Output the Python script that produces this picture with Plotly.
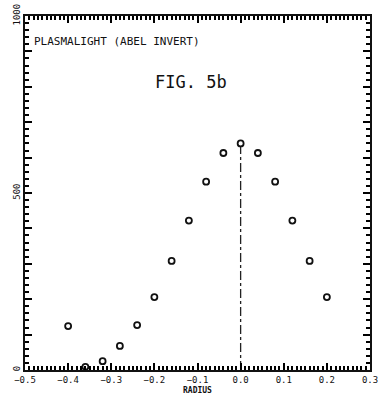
import plotly.graph_objects as go

radius = [-0.40, -0.36, -0.32, -0.28, -0.24, -0.20, -0.16, -0.12, -0.08, -0.04,
          0.00, 0.04, 0.08, 0.12, 0.16, 0.20]
light = [124, 9, 25, 68, 127, 206, 308, 422, 532, 613,
         640, 613, 532, 422, 308, 206]

center_x = [0.0, 0.0]
center_y = [0, 630]

y_hidden_labels = ["100", "200", "300", "400", "600", "700", "800", "900"]

FONT = "DejaVu Sans Mono"
INK = "#000000"

fig = go.Figure()
fig.add_trace(go.Scatter(x=center_x, y=center_y, mode="lines",
                         line=dict(color="#222", width=1.3, dash="dashdot"),
                         hoverinfo="skip", showlegend=False))
fig.add_trace(go.Scatter(x=radius, y=light, mode="markers",
                         marker=dict(symbol="circle-open", size=6,
                                     color="#111", line=dict(width=1.8, color="#111")),
                         showlegend=False))

minor_x = dict(dtick=0.01, ticks="inside", ticklen=4, tickwidth=1.5, tickcolor=INK)
minor_y = dict(dtick=20, ticks="inside", ticklen=4, tickwidth=1.5, tickcolor=INK)

fig.update_layout(
    width=379, height=398,
    margin=dict(l=25, r=9, t=16, b=28),
    paper_bgcolor="white", plot_bgcolor="white",
    font=dict(family=FONT, color="#111"),
    xaxis=dict(range=[-0.5, 0.3], tickmode="linear", tick0=-0.5, dtick=0.1,
               tickformat=".1f", automargin=False,
               ticks="inside", ticklen=7, tickwidth=1.5, tickcolor=INK,
               minor=minor_x,
               showline=True, linecolor="#111", linewidth=1.5, mirror="ticks",
               showgrid=False, zeroline=False, ticklabelstandoff=0,
               tickfont=dict(size=9, family=FONT), tickangle=0),
    yaxis=dict(range=[0, 1000], tickmode="linear", tick0=0, dtick=100,
               labelalias={lab: " " for lab in y_hidden_labels}, automargin=False,
               ticks="inside", ticklen=7, tickwidth=1.5, tickcolor=INK,
               minor=minor_y,
               showline=True, linecolor="#111", linewidth=1.5, mirror="ticks",
               showgrid=False, zeroline=False, ticklabeloverflow="allow",
               tickfont=dict(size=9, family=FONT), tickangle=-90),
    annotations=[
        dict(text="PLASMALIGHT (ABEL INVERT)", xref="paper", yref="paper",
             x=0.02, y=0.927, xanchor="left", yanchor="middle", showarrow=False,
             font=dict(size=11, family=FONT, color="#111")),
        dict(text="FIG. 5b", xref="paper", yref="paper",
             x=0.481, y=0.814, xanchor="center", yanchor="middle", showarrow=False,
             font=dict(size=17, family=FONT, color="#111")),
        dict(text="<b>RADIUS</b>", xref="paper", yref="paper",
             x=0.5, y=-0.059, xanchor="center", yanchor="middle", showarrow=False,
             font=dict(size=8, family=FONT, color="#111")),
    ],
)

fig.write_html("out.html", config={"displayModeBar": False},
               post_script="document.body.style.margin='0';")
